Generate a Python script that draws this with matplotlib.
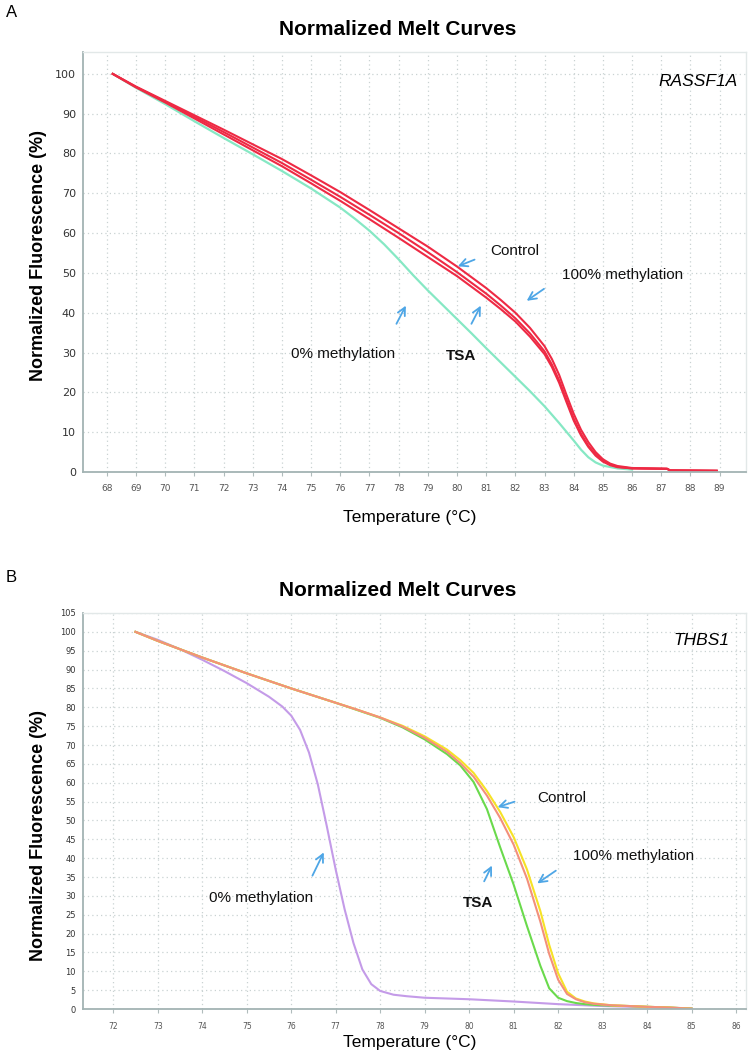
import matplotlib
matplotlib.use('Agg')
import matplotlib.pyplot as plt

plt.rcParams['font.family'] = ['Liberation Sans', 'DejaVu Sans']

# ---------------- Panel A: RASSF1A ----------------
a_temp_red = [68.2, 69, 70, 71, 72, 73, 74, 75, 76, 77, 78, 79, 80, 81, 81.5, 82, 82.5,
              83, 83.25, 83.5, 83.75, 84, 84.25, 84.5, 84.75, 85, 85.25, 85.5, 86,
              87.2, 87.3, 88.9]
a_meth100 = [100, 96.8, 93.2, 89.6, 86.0, 82.3, 78.6, 74.5, 70.3, 65.8, 61.2, 56.6,
             51.6, 46.2, 43.2, 40.0, 36.2, 31.6, 28.4, 24.4, 19.4, 14.6, 10.6, 7.5,
             5.0, 3.2, 2.1, 1.5, 1.0, 0.8, 0.4, 0.3]
a_control = [100, 96.7, 93.0, 89.2, 85.4, 81.5, 77.6, 73.4, 69.1, 64.6, 60.0, 55.2,
             50.2, 44.8, 41.8, 38.6, 34.8, 30.3, 27.0, 23.0, 18.2, 13.4, 9.6, 6.6,
             4.4, 2.8, 1.9, 1.3, 0.9, 0.8, 0.4, 0.3]
a_tsa = [100, 96.6, 92.8, 88.8, 84.8, 80.8, 76.8, 72.5, 68.1, 63.5, 58.8, 54.0,
         49.2, 43.8, 40.9, 37.8, 34.0, 29.6, 26.4, 22.4, 17.6, 12.9, 9.2, 6.3,
         4.1, 2.6, 1.7, 1.2, 0.9, 0.8, 0.4, 0.3]

a_temp_0 = [68.2, 69, 70, 71, 72, 73, 74, 75, 76, 76.5, 77, 77.5, 78, 78.5, 79, 79.5,
            80, 80.5, 81, 81.5, 82, 82.5, 83, 83.5, 84, 84.25, 84.5, 84.75, 85, 85.5, 86]
a_meth0 = [100, 96.5, 92.4, 88.1, 83.9, 79.8, 75.6, 71.2, 66.4, 63.6, 60.6, 57.2, 53.4,
           49.4, 45.6, 42.0, 38.4, 34.8, 31.1, 27.5, 23.9, 20.3, 16.5, 12.3, 7.9, 5.6,
           3.7, 2.4, 1.6, 0.9, 0.6]

a_xticks = list(range(68, 90))
a_yticks = list(range(0, 101, 10))

# ---------------- Panel B: THBS1 ----------------
b_temp = [72.5, 73, 74, 75, 76, 77, 77.5, 78, 78.5, 79, 79.5, 79.8, 80.1, 80.4, 80.7,
          81.0, 81.3, 81.6, 81.8, 82.0, 82.2, 82.4, 82.6, 82.8, 83.2, 83.6, 84, 84.5, 85]
b_control = [100, 97.6, 93.2, 89.0, 85.0, 81.2, 79.3, 77.3, 75.1, 72.3, 68.8, 66.0,
             62.6, 57.8, 52.2, 45.6, 37.0, 26.0, 17.0, 9.5, 4.6, 2.8, 2.0, 1.5, 1.0,
             0.8, 0.6, 0.4, 0.1]
b_meth100 = [100, 97.6, 93.2, 89.0, 85.0, 81.2, 79.3, 77.3, 74.9, 71.9, 68.2, 65.2,
             61.6, 56.6, 50.6, 43.6, 34.6, 23.2, 14.6, 7.8, 4.0, 2.6, 1.8, 1.4, 1.0,
             0.8, 0.6, 0.4, 0.1]
b_tsa = [100, 97.6, 93.2, 89.0, 85.0, 81.2, 79.2, 77.2, 74.7, 71.5, 67.6, 64.6,
         60.2, 53.0, 42.8, 33.0, 22.0, 11.5, 5.5, 3.0, 2.1, 1.6, 1.3, 1.1, 0.9,
         0.8, 0.6, 0.4, 0.1]

b_temp_0 = [72.5, 73, 73.5, 74, 74.5, 75, 75.5, 75.8, 76.0, 76.2, 76.4, 76.6, 76.8,
            77.0, 77.2, 77.4, 77.6, 77.8, 78.0, 78.3, 78.6, 79, 80, 81, 82, 83, 84, 85]
b_meth0 = [100, 97.9, 95.4, 92.6, 89.6, 86.4, 82.8, 80.2, 77.8, 74.0, 68.0, 59.5,
           48.5, 37.0, 26.5, 17.5, 10.5, 6.6, 4.8, 3.8, 3.4, 3.0, 2.6, 2.0, 1.3,
           0.8, 0.5, 0.2]

b_xticks = list(range(72, 87))
b_yticks = list(range(0, 106, 5))

arrow_col = '#4ea6e6'


def style_axes(ax, xticks, yticks, xlim, ylim, tick_font, xsize, ysize):
    ax.set_xlim(*xlim)
    ax.set_ylim(*ylim)
    ax.set_xticks(xticks)
    ax.set_yticks(yticks)
    ax.grid(True, linestyle=(0, (1, 2.5)), color='#c9d2d2', linewidth=0.9)
    ax.set_axisbelow(True)
    for s in ['left', 'bottom']:
        ax.spines[s].set_color('#a3b3b3')
        ax.spines[s].set_linewidth(1.3)
    for s in ['top', 'right']:
        ax.spines[s].set_color('#e2e8e8')
        ax.spines[s].set_linewidth(1.0)
    ax.tick_params(axis='x', length=3, color='#b0bcbc', pad=6, labelsize=xsize,
                   labelcolor='#555555')
    ax.tick_params(axis='y', length=0, pad=5, labelsize=ysize, labelcolor='#333333')
    for lab in ax.get_xticklabels() + ax.get_yticklabels():
        lab.set_family(tick_font)


def note(ax, text, xy, xytext, tx, ty, weight='normal', ha='left'):
    ax.annotate('', xy=xy, xytext=xytext,
                arrowprops=dict(arrowstyle='->', color=arrow_col, lw=1.3,
                                mutation_scale=14))
    ax.text(tx, ty, text, fontsize=11, ha=ha, va='center', color='#111111',
            fontweight=weight)


fig = plt.figure(figsize=(7.49, 10.5), dpi=100)

# ---------------- Panel A ----------------
ax1 = fig.add_axes([0.1108, 0.5505, 0.885, 0.400])
ax1.plot(a_temp_0, a_meth0, color='#86e8c4', lw=1.6)
ax1.plot(a_temp_red, a_tsa, color='#ee2a44', lw=1.5)
ax1.plot(a_temp_red, a_control, color='#ee2a44', lw=1.5)
ax1.plot(a_temp_red, a_meth100, color='#ee2a44', lw=1.5)
style_axes(ax1, a_xticks, a_yticks, (67.18, 89.9), (0, 105.5),
           ['DejaVu Sans Condensed', 'DejaVu Sans'], 6.5, 8)
ax1.text(0.988, 0.93, 'RASSF1A', transform=ax1.transAxes, fontsize=12.5,
         style='italic', ha='right', va='center')

note(ax1, 'Control', (79.94, 51.4), (80.69, 53.6), 81.14, 55.4)
note(ax1, '100% methylation', (82.31, 42.6), (83.06, 46.4), 83.61, 49.6)
note(ax1, 'TSA', (80.86, 42.4), (80.45, 36.6), 80.14, 29.1, weight='bold', ha='center')
note(ax1, '0% methylation', (78.29, 42.4), (77.88, 36.6), 76.1, 29.6, ha='center')

# ---------------- Panel B ----------------
ax2 = fig.add_axes([0.1108, 0.039, 0.885, 0.3772])
ax2.plot(b_temp_0, b_meth0, color='#c49be8', lw=1.5)
ax2.plot(b_temp, b_tsa, color='#6ada4c', lw=1.5)
ax2.plot(b_temp, b_control, color='#f6e226', lw=1.5)
ax2.plot(b_temp, b_meth100, color='#f3907c', lw=1.5)
style_axes(ax2, b_xticks, b_yticks, (71.32, 86.22), (0, 105),
           ['DejaVu Sans'], 5.5, 6)
ax2.text(0.975, 0.93, 'THBS1', transform=ax2.transAxes, fontsize=12.5,
         style='italic', ha='right', va='center')

note(ax2, 'Control', (80.58, 53.3), (81.08, 55.2), 81.53, 56.0)
note(ax2, '100% methylation', (81.48, 32.9), (82.0, 37.1), 82.34, 40.6)
note(ax2, 'TSA', (80.54, 38.7), (80.31, 33.2), 80.2, 28.1, weight='bold', ha='center')
note(ax2, '0% methylation', (76.76, 42.2), (76.45, 34.7), 75.33, 29.4, ha='center')

# ---------------- figure texts ----------------
for y_title, y_letter, letter, y_xl, y_yl in [(0.972, 0.988, 'A', 0.507, 0.757),
                                               (0.438, 0.450, 'B', 0.007, 0.204)]:
    fig.text(0.531, y_title, 'Normalized Melt Curves', fontsize=15, fontweight='bold',
             ha='center', va='center')
    fig.text(0.008, y_letter, letter, fontsize=12, ha='left', va='center')
    fig.text(0.547, y_xl, 'Temperature (°C)', fontsize=12.5, ha='center', va='center')
    fig.text(0.051, y_yl, 'Normalized Fluorescence (%)', fontsize=13, fontweight='bold',
             rotation=90, ha='center', va='center')

fig.savefig('out.png', dpi=100)
